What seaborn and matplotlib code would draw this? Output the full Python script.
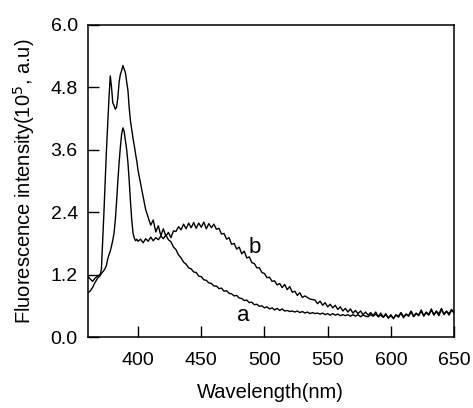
import numpy as np
import pandas as pd
import seaborn as sns
import matplotlib
matplotlib.use("Agg")
import matplotlib.pyplot as plt

# sampling grid (nm)
wavelength = list(range(360, 371, 2)) + list(range(371, 401)) + list(range(402, 651, 2))

# curve a
a_start = [0.85, 0.88, 0.95, 1.05, 1.13, 1.18]
a_peak = [1.22, 1.25, 1.28, 1.32, 1.38, 1.50, 1.58, 1.65, 1.75, 1.86,
          2.00, 2.25, 2.60, 3.00, 3.35, 3.65, 3.90, 4.02, 3.95, 3.78,
          3.60, 3.35, 3.00, 2.60, 2.25, 2.00, 1.90, 1.85, 1.88, 1.84]
a_tail = [1.88, 1.81, 1.89, 1.84, 1.92, 1.85, 1.91, 1.87, 1.94, 1.89,
          1.96, 1.87, 1.83, 1.73, 1.68, 1.58, 1.52, 1.44, 1.40, 1.33,
          1.31, 1.25, 1.24, 1.17, 1.16, 1.10, 1.09, 1.04, 1.03, 0.98,
          0.98, 0.93, 0.94, 0.88, 0.89, 0.84, 0.83, 0.79, 0.80, 0.75,
          0.74, 0.70, 0.71, 0.66, 0.67, 0.62, 0.63, 0.59, 0.60, 0.56,
          0.58, 0.54, 0.56, 0.52, 0.55, 0.51, 0.54, 0.50, 0.51, 0.49,
          0.50, 0.48, 0.50, 0.47, 0.49, 0.46, 0.48, 0.45, 0.47, 0.45,
          0.46, 0.44, 0.46, 0.43, 0.45, 0.42, 0.45, 0.42, 0.44, 0.41,
          0.43, 0.41, 0.43, 0.40, 0.43, 0.40, 0.43, 0.39, 0.42, 0.40,
          0.39, 0.43, 0.40, 0.44, 0.39, 0.42, 0.38, 0.43, 0.37, 0.41,
          0.36, 0.42, 0.40, 0.47, 0.39, 0.44, 0.41, 0.50, 0.40, 0.46,
          0.42, 0.52, 0.41, 0.48, 0.43, 0.54, 0.42, 0.50, 0.44, 0.55,
          0.43, 0.49, 0.45, 0.53, 0.47]

# curve b
b_start = [1.18, 1.12, 1.07, 1.13, 1.17, 1.20]
b_peak = [1.30, 1.85, 2.40, 3.00, 3.60, 4.10, 4.60, 5.02, 4.80, 4.50,
          4.45, 4.38, 4.42, 4.60, 4.90, 5.05, 5.12, 5.22, 5.15, 5.08,
          4.90, 4.74, 4.40, 4.15, 3.98, 3.82, 3.68, 3.52, 3.38, 3.20]
b_tail = [2.95, 2.70, 2.45, 2.30, 2.15, 2.25, 2.02, 2.14, 1.95, 2.08,
          1.94, 2.01, 1.91, 2.04, 2.03, 2.12, 2.06, 2.17, 2.08, 2.19,
          2.10, 2.20, 2.09, 2.19, 2.11, 2.21, 2.08, 2.18, 2.10, 2.17,
          2.07, 2.09, 1.98, 1.99, 1.88, 1.91, 1.78, 1.80, 1.69, 1.73,
          1.60, 1.65, 1.52, 1.54, 1.43, 1.41, 1.33, 1.33, 1.24, 1.22,
          1.14, 1.15, 1.07, 1.08, 1.00, 1.03, 0.95, 1.01, 0.91, 0.97,
          0.86, 0.88, 0.80, 0.85, 0.76, 0.79, 0.76, 0.73, 0.72, 0.71,
          0.64, 0.69, 0.61, 0.66, 0.58, 0.63, 0.56, 0.61, 0.53, 0.58,
          0.50, 0.55, 0.48, 0.54, 0.46, 0.51, 0.45, 0.50, 0.43, 0.48,
          0.42, 0.47, 0.41, 0.48, 0.39, 0.46, 0.38, 0.45, 0.36, 0.43,
          0.35, 0.43, 0.38, 0.46, 0.37, 0.44, 0.40, 0.48, 0.39, 0.45,
          0.41, 0.50, 0.40, 0.47, 0.42, 0.52, 0.43, 0.49, 0.41, 0.53,
          0.44, 0.50, 0.42, 0.52, 0.46]

x_ticks = [400, 450, 500, 550, 600, 650]
y_ticks = [0.0, 1.2, 2.4, 3.6, 4.8, 6.0]

df = pd.DataFrame({
    "wl": wavelength * 2,
    "val": a_start + a_peak + a_tail + b_start + b_peak + b_tail,
    "curve": ["a"] * len(wavelength) + ["b"] * len(wavelength),
})

sns.set_style("ticks")
plt.rcParams["font.family"] = ["Liberation Sans", "DejaVu Sans"]
plt.rcParams.update({"text.color": "black", "axes.labelcolor": "black",
                     "xtick.color": "black", "ytick.color": "black",
                     "axes.edgecolor": "black"})

fig = plt.figure(figsize=(4.73, 4.08), dpi=100)
ax = fig.add_axes([0.185, 0.174, 0.775, 0.765])

sns.lineplot(data=df, x="wl", y="val", units="curve", estimator=None,
             color="black", lw=1.0, ax=ax)

ax.set_xlim(360, 650)
ax.set_ylim(0, 6.0)
ax.set_xticks(x_ticks)
ax.set_yticks(y_ticks)
ax.set_yticklabels([f"{v:.1f}" for v in y_ticks])
ax.tick_params(direction="in", length=8, width=1, labelsize=14,
               color="black", labelcolor="black")
ax.tick_params(axis="x", pad=11)
ax.tick_params(axis="y", pad=7)
for s in ax.spines.values():
    s.set_linewidth(1.1)
    s.set_color("black")

ax.set_xlabel("Wavelength(nm)", fontsize=14.5, labelpad=10, color="black")
ax.set_ylabel("Fluorescence intensity(10$^5$, a.u)", fontsize=14.5,
              labelpad=10, color="black")

ax.text(492, 1.73, "b", fontsize=16, ha="center", va="center", color="black")
ax.text(483, 0.42, "a", fontsize=16, ha="center", va="center", color="black")

fig.savefig("out.png", dpi=100)
